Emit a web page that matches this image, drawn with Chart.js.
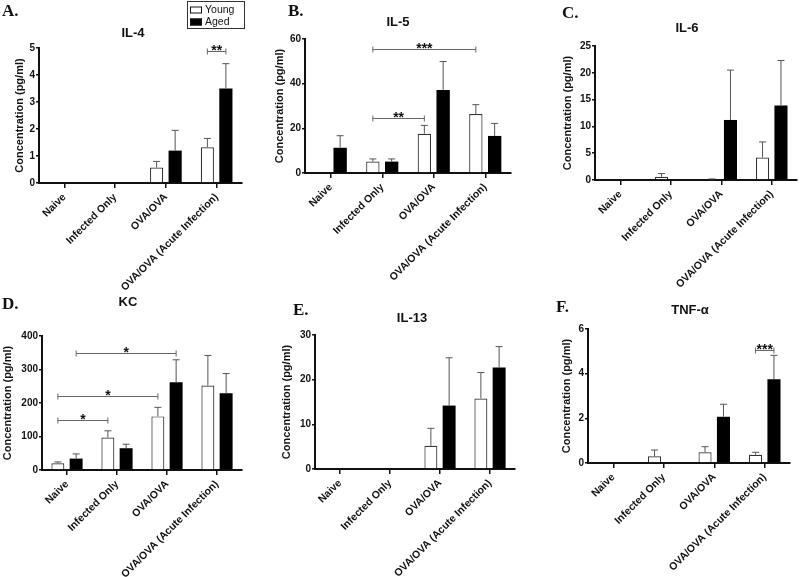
<!DOCTYPE html>
<html>
<head>
<meta charset="utf-8">
<title>Cytokine concentrations - Young vs Aged</title>
<script src="https://cdn.jsdelivr.net/npm/chart.js@4.4.0/dist/chart.umd.min.js"></script>
<style>
  html, body { margin: 0; padding: 0; background: #fff; }
  #wrap { position: relative; width: 800px; height: 577px; overflow: hidden; }
  #wrap canvas { position: absolute; left: 0; top: 0; }
</style>
</head>
<body>
<div id="wrap">
  <canvas id="chartA" width="800" height="577"></canvas>
  <canvas id="chartB" width="800" height="577"></canvas>
  <canvas id="chartC" width="800" height="577"></canvas>
  <canvas id="chartD" width="800" height="577"></canvas>
  <canvas id="chartE" width="800" height="577"></canvas>
  <canvas id="chartF" width="800" height="577"></canvas>
</div>
<script>
var groups = ['Naive', 'Infected Only', 'OVA/OVA', 'OVA/OVA (Acute Infection)'];
var seriesNames = ['Young', 'Aged'];

// A. IL-4
var il4Young = [0, 0, 0.57, 1.32];
var il4YoungSem = [0, 0, 0.23, 0.33];
var il4Aged = [0, 0, 1.2, 3.5];
var il4AgedSem = [0, 0, 0.75, 0.92];
var il4Ticks = [0, 1, 2, 3, 4, 5];
var il4Sig = [{ from: [3, 0], to: [3, 1], at: 4.88, label: '**' }];

// B. IL-5
var il5Young = [0, 5.1, 17.6, 26.4];
var il5YoungSem = [0, 1.2, 3.7, 4.2];
var il5Aged = [11.3, 5.1, 37.2, 16.6];
var il5AgedSem = [5.4, 1.2, 12.7, 5.6];
var il5Ticks = [0, 20, 40, 60];
var il5Sig = [
  { from: [1, 0], to: [3, 0], at: 55.4, label: '***' },
  { from: [1, 0], to: [2, 0], at: 24.5, label: '**' }
];

// C. IL-6
var il6Young = [0, 0.6, 0.15, 4.2];
var il6YoungSem = [0, 0.6, 0.05, 2.9];
var il6Aged = [0, 0, 11.2, 13.9];
var il6AgedSem = [0, 0, 9.3, 8.4];
var il6Ticks = [0, 5, 10, 15, 20, 25];
var il6Sig = [];

// D. KC
var kcYoung = [20, 97, 160, 252];
var kcYoungSem = [4, 20, 27, 90];
var kcAged = [34, 65, 262, 229];
var kcAgedSem = [14, 12, 67, 59];
var kcTicks = [0, 100, 200, 300, 400];
var kcSig = [
  { from: [0, 1], to: [2, 1], at: 348, label: '*' },
  { from: [0, 0], to: [2, 0], at: 221, label: '*' },
  { from: [0, 0], to: [1, 0], at: 149, label: '*' }
];

// E. IL-13
var il13Young = [0, 0, 5.2, 15.8];
var il13YoungSem = [0, 0, 3.9, 5.8];
var il13Aged = [0, 0, 14.2, 22.7];
var il13AgedSem = [0, 0, 10.7, 4.7];
var il13Ticks = [0, 10, 20, 30];
var il13Sig = [];

// F. TNF-a
var tnfYoung = [0, 0.3, 0.48, 0.37];
var tnfYoungSem = [0, 0.28, 0.25, 0.11];
var tnfAged = [0, 0, 2.07, 3.75];
var tnfAgedSem = [0, 0, 0.56, 1.07];
var tnfTicks = [0, 2, 4, 6];
var tnfSig = [{ from: [3, 0], to: [3, 1], at: 5.05, label: '***' }];

Chart.defaults.font.family = '"Liberation Sans", Arial, sans-serif';
Chart.defaults.color = '#111';

// error bars, significance brackets, panel title/letter and legend
var panelDecor = {
  id: 'panelDecor',
  afterDatasetsDraw: function (chart, args, opts) {
    var ctx = chart.ctx;
    var yScale = chart.scales.y;
    ctx.save();
    ctx.strokeStyle = '#555';
    ctx.lineWidth = 1;
    opts.sem.forEach(function (sems, ds) {
      var meta = chart.getDatasetMeta(ds);
      meta.data.forEach(function (bar, i) {
        if (!sems[i]) return;
        var v = chart.data.datasets[ds].data[i];
        var top = yScale.getPixelForValue(v + sems[i]);
        ctx.beginPath();
        ctx.moveTo(bar.x, bar.y);
        ctx.lineTo(bar.x, top);
        ctx.moveTo(bar.x - 3.5, top);
        ctx.lineTo(bar.x + 3.5, top);
        ctx.stroke();
      });
    });

    opts.sig.forEach(function (s) {
      var x1 = chart.getDatasetMeta(s.from[1]).data[s.from[0]].x;
      var x2 = chart.getDatasetMeta(s.to[1]).data[s.to[0]].x;
      var y = Math.round(yScale.getPixelForValue(s.at)) + 0.5;
      ctx.strokeStyle = '#666';
      ctx.lineWidth = 1;
      ctx.beginPath();
      ctx.moveTo(x1, y); ctx.lineTo(x2, y);
      ctx.moveTo(x1, y - 3); ctx.lineTo(x1, y + 3);
      ctx.moveTo(x2, y - 3); ctx.lineTo(x2, y + 3);
      ctx.stroke();
      ctx.fillStyle = '#111';
      ctx.font = 'bold 14px "Liberation Sans", Arial, sans-serif';
      ctx.textAlign = 'center';
      ctx.textBaseline = 'alphabetic';
      ctx.fillText(s.label, (x1 + x2) / 2, y + 3.5);
    });
    ctx.restore();
  },
  afterDraw: function (chart, args, opts) {
    var ctx = chart.ctx;
    ctx.save();
    ctx.fillStyle = '#111';
    ctx.font = 'bold 13px "Liberation Sans", Arial, sans-serif';
    ctx.textAlign = 'center';
    ctx.textBaseline = 'middle';
    ctx.fillText(opts.title, opts.titleX, opts.titleY);

    ctx.font = 'bold 17px "Liberation Serif", "Times New Roman", serif';
    ctx.textAlign = 'left';
    ctx.textBaseline = 'alphabetic';
    ctx.fillText(opts.letter, opts.letterX, opts.letterY);

    if (opts.legend) {
      var L = opts.legend;
      ctx.strokeStyle = '#333';
      ctx.lineWidth = 1;
      ctx.strokeRect(L.x + 0.5, L.y + 0.5, L.w, L.h);
      ctx.font = '10.5px "Liberation Sans", Arial, sans-serif';
      ctx.textBaseline = 'middle';
      chart.data.datasets.forEach(function (d, i) {
        var cy = L.y + 9 + i * 12;
        ctx.fillStyle = d.backgroundColor;
        ctx.fillRect(L.x + 3, cy - 3.5, 12, 7);
        ctx.strokeStyle = '#111';
        ctx.strokeRect(L.x + 3.5, cy - 3, 11, 6);
        ctx.fillStyle = '#111';
        ctx.fillText(d.label, L.x + 18, cy);
      });
    }
    ctx.restore();
  }
};

function buildPanel(canvasId, p) {
  var b = p.box;
  var ticks = p.ticks;
  new Chart(document.getElementById(canvasId), {
    type: 'bar',
    data: {
      labels: groups,
      datasets: [
        { label: seriesNames[0], data: p.young, backgroundColor: '#ffffff', borderColor: '#333',
          borderWidth: 1.2, categoryPercentage: 0.73, barPercentage: 0.71 },
        { label: seriesNames[1], data: p.aged, backgroundColor: '#000000', borderColor: '#000',
          borderWidth: 0, categoryPercentage: 0.73, barPercentage: 0.71 }
      ]
    },
    options: {
      responsive: false,
      animation: false,
      devicePixelRatio: 1,
      layout: { padding: { left: 0, top: b.t, right: 800 - b.r, bottom: 0 } },
      plugins: {
        legend: { display: false },
        tooltip: { enabled: false },
        panelDecor: {
          sem: [p.youngSem, p.agedSem],
          sig: p.sig,
          title: p.title, titleX: p.titleX, titleY: p.titleY,
          letter: p.letter, letterX: p.letterX, letterY: p.letterY,
          legend: p.legend
        }
      },
      scales: {
        x: {
          grid: { display: true, drawOnChartArea: false, drawTicks: true, tickLength: 5,
                  offset: false, color: '#111', lineWidth: 1.5 },
          border: { display: true, color: '#111', width: 2 },
          ticks: { minRotation: 45, maxRotation: 45, autoSkip: false, padding: 3,
                   font: { size: 10.5, weight: 'bold' }, color: '#111' },
          afterFit: function (s) { s.height = 577 - b.b; }
        },
        y: {
          min: ticks[0],
          max: ticks[ticks.length - 1],
          grid: { display: true, drawOnChartArea: false, drawTicks: true, tickLength: 3,
                  color: '#111', lineWidth: 1.5 },
          border: { display: true, color: '#111', width: 2 },
          ticks: { padding: 1, font: { size: 10, weight: 'bold' }, color: '#111' },
          afterBuildTicks: function (s) { s.ticks = ticks.map(function (v) { return { value: v }; }); },
          title: { display: true, text: 'Concentration (pg/ml)', color: '#111',
                   font: { size: 11, weight: 'bold' }, padding: { top: b.ytx - 6.6, bottom: 0 } },
          afterFit: function (s) { s.width = b.l; }
        }
      }
    },
    plugins: [panelDecor]
  });
}

buildPanel('chartA', {
  young: il4Young, youngSem: il4YoungSem, aged: il4Aged, agedSem: il4AgedSem,
  ticks: il4Ticks, sig: il4Sig,
  box: { l: 39, t: 48, r: 242, b: 183, ytx: 20 },
  title: 'IL-4', titleX: 133, titleY: 33, letter: 'A.', letterX: 2, letterY: 16,
  legend: { x: 187, y: 1, w: 57, h: 27 }
});
buildPanel('chartB', {
  young: il5Young, youngSem: il5YoungSem, aged: il5Aged, agedSem: il5AgedSem,
  ticks: il5Ticks, sig: il5Sig,
  box: { l: 305, t: 39, r: 511, b: 173, ytx: 280 },
  title: 'IL-5', titleX: 398, titleY: 22, letter: 'B.', letterX: 288, letterY: 16
});
buildPanel('chartC', {
  young: il6Young, youngSem: il6YoungSem, aged: il6Aged, agedSem: il6AgedSem,
  ticks: il6Ticks, sig: il6Sig,
  box: { l: 595, t: 46, r: 797, b: 180, ytx: 568 },
  title: 'IL-6', titleX: 687, titleY: 28, letter: 'C.', letterX: 562, letterY: 18
});
buildPanel('chartD', {
  young: kcYoung, youngSem: kcYoungSem, aged: kcAged, agedSem: kcAgedSem,
  ticks: kcTicks, sig: kcSig,
  box: { l: 42, t: 336, r: 242, b: 470, ytx: 8 },
  title: 'KC', titleX: 128, titleY: 302, letter: 'D.', letterX: 2, letterY: 309
});
buildPanel('chartE', {
  young: il13Young, youngSem: il13YoungSem, aged: il13Aged, agedSem: il13AgedSem,
  ticks: il13Ticks, sig: il13Sig,
  box: { l: 315, t: 335, r: 515, b: 469, ytx: 287 },
  title: 'IL-13', titleX: 412, titleY: 318, letter: 'E.', letterX: 293, letterY: 315
});
buildPanel('chartF', {
  young: tnfYoung, youngSem: tnfYoungSem, aged: tnfAged, agedSem: tnfAgedSem,
  ticks: tnfTicks, sig: tnfSig,
  box: { l: 588, t: 329, r: 790, b: 463, ytx: 567 },
  title: 'TNF-\u03b1', titleX: 690, titleY: 310, letter: 'F.', letterX: 556, letterY: 312
});
</script>
</body>
</html>
